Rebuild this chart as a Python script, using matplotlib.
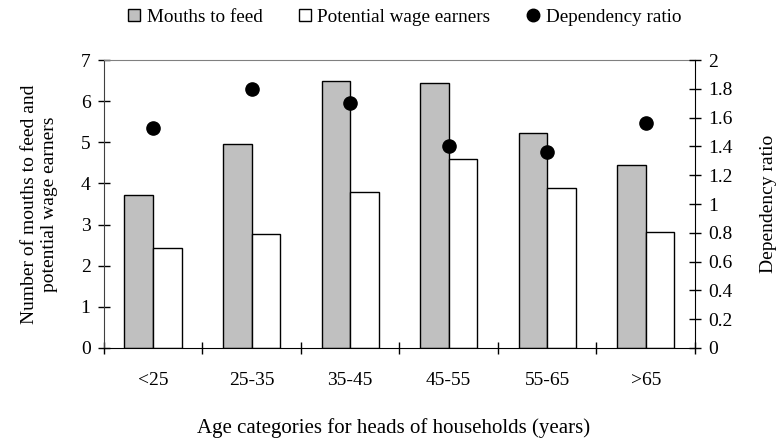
import matplotlib
matplotlib.use("Agg")
import matplotlib.pyplot as plt
from matplotlib.lines import Line2D
import numpy as np

categories = ["<25", "25-35", "35-45", "45-55", "55-65", ">65"]
mouths_to_feed = [3.72, 4.95, 6.48, 6.44, 5.23, 4.44]
wage_earners = [2.43, 2.76, 3.80, 4.60, 3.90, 2.82]
dependency_ratio = [1.53, 1.80, 1.70, 1.40, 1.36, 1.565]

plt.rcParams['font.family'] = ['Liberation Serif', 'DejaVu Serif']
plt.rcParams['font.size'] = 14

fig = plt.figure(figsize=(7.8, 4.42), dpi=100)
ax = fig.add_axes([0.133, 0.2127, 0.758, 0.6513])
x = np.arange(len(categories))
w = 0.29
ax.bar(x - w / 2, mouths_to_feed, width=w, color="#c0c0c0", edgecolor="black", linewidth=1.0, zorder=2)
ax.bar(x + w / 2, wage_earners, width=w, color="white", edgecolor="black", linewidth=1.0, zorder=2)
ax.set_xlim(-0.5, 5.5)
ax.set_ylim(0, 7)
ax.set_yticks(range(0, 8))
ax.set_xticks(x)
ax.set_xticklabels(categories)
ax.set_xticks(np.arange(-0.5, 6.0, 1.0), minor=True)
ax.tick_params(axis='x', which='major', length=0, pad=17)
ax.tick_params(axis='x', which='minor', direction='inout', length=9, width=1)
ax.tick_params(axis='y', direction='inout', length=9, width=1, pad=5)
ax.spines['top'].set_color('#808080')
ax.spines['left'].set_color('#404040')
ax.spines['right'].set_visible(False)
ax.set_ylabel("Number of mouths to feed and\npotential wage earners", labelpad=16, linespacing=1.3)
ax.set_xlabel("Age categories for heads of households (years)", fontsize=15)
ax.xaxis.set_label_coords(0.491, -0.245)

ax2 = ax.twinx()
ax2.plot(x, dependency_ratio, 'o', color='black', markersize=9.5, zorder=3)
ax2.set_ylim(0, 2)
ax2.set_yticks(np.arange(0, 2.01, 0.2))
ax2.set_yticklabels(["0", "0.2", "0.4", "0.6", "0.8", "1", "1.2", "1.4", "1.6", "1.8", "2"])
ax2.tick_params(axis='y', direction='inout', length=9, width=1, pad=5)
ax2.spines['top'].set_visible(False)
ax2.spines['left'].set_visible(False)
ax2.spines['bottom'].set_visible(False)
ax2.set_ylabel("Dependency ratio", labelpad=20)

handles = [
    Line2D([], [], marker='s', linestyle='none', markerfacecolor='#c0c0c0', markeredgecolor='black', markersize=8),
    Line2D([], [], marker='s', linestyle='none', markerfacecolor='white', markeredgecolor='black', markersize=8),
    Line2D([], [], marker='o', linestyle='none', markerfacecolor='black', markeredgecolor='black', markersize=9),
]
fig.legend(handles, ["Mouths to feed", "Potential wage earners", "Dependency ratio"],
           loc='upper center', bbox_to_anchor=(0.515, 1.02), ncol=3, frameon=False,
           handletextpad=0.07, columnspacing=1.6, handlelength=1.2, fontsize=13.8)

fig.savefig("out.png", dpi=100)
